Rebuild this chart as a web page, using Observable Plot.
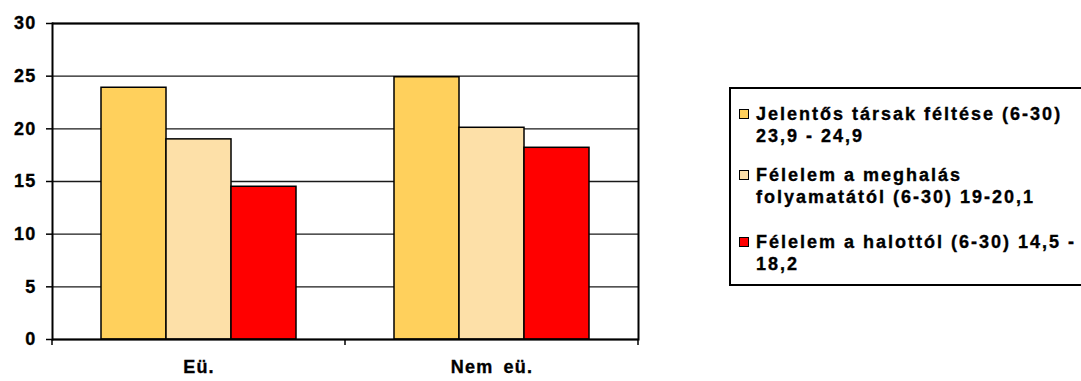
<!DOCTYPE html>
<html>
<head>
<meta charset="utf-8">
<script src="https://cdn.jsdelivr.net/npm/d3@7"></script>
<script src="https://cdn.jsdelivr.net/npm/@observablehq/plot@0.6"></script>
<style>
  html, body { margin: 0; padding: 0; background: #fff; overflow: hidden; }
  #wrap { position: relative; width: 1081px; height: 381px; overflow: hidden; }
  #chart svg text { letter-spacing: 1.2px; word-spacing: 4px; stroke: #000; stroke-width: 0.35px; paint-order: stroke; }
  #legend {
    position: absolute; left: 729px; top: 87px; width: 400px; height: 199px;
    box-sizing: border-box; border: 2px solid #000; background: #fff;
    font-family: "Liberation Sans", Arial, sans-serif; font-weight: bold; font-size: 18px;
    letter-spacing: 2px; word-spacing: 0px; color: #000; -webkit-text-stroke: 0.35px #000;
  }
  .item { position: absolute; left: 25px; line-height: 22px; white-space: pre; }
  .sw { position: absolute; left: -17px; top: 6px; width: 10px; height: 10px; box-sizing: border-box; border: 1px solid #000; }
</style>
</head>
<body>
<div id="wrap">
  <div id="chart"></div>
  <div id="legend"></div>
</div>
<script>
const categories = ["Eü.", "Nem eü."];
const seriesNames = ["Jelentős társak féltése", "Félelem a meghalás folyamatától", "Félelem a halottól"];
const legendLines = [
  ["Jelentős társak féltése (6-30)", "23,9 - 24,9"],
  ["Félelem a meghalás", "folyamatától (6-30) 19-20,1"],
  ["Félelem a halottól (6-30) 14,5 -", "18,2"]
];
const jelentos = [23.9, 24.9];
const meghalas = [19.0, 20.1];
const halott = [14.5, 18.2];
const colors = ["#FFD05C", "#FDE0A8", "#FF0000"];
const yTicks = [0, 5, 10, 15, 20, 25, 30];

const seriesValues = [jelentos, meghalas, halott];
const table = [];
categories.forEach((c, i) => {
  seriesNames.forEach((s, j) => table.push({cat: c, series: s, value: seriesValues[j][i]}));
});

const W = 1081, H = 381;
const plot = Plot.plot({
  width: W, height: H,
  marginLeft: 51, marginRight: 443, marginTop: 23, marginBottom: 42,
  style: {fontFamily: "'Liberation Sans', Arial, sans-serif", fontSize: "18px", fontWeight: "bold", color: "#000", background: "#fff"},
  fx: {domain: categories, padding: 0, label: null},
  x: {domain: seriesNames, paddingInner: 0, paddingOuter: 0.75, axis: null},
  y: {domain: [0, 30], label: null},
  color: {domain: seriesNames, range: colors},
  marks: [
    Plot.gridY(yTicks, {stroke: "#1a1a1a", strokeOpacity: 1, strokeWidth: 1.4}),
    Plot.barY(table, {fx: "cat", x: "series", y: "value", fill: "series", stroke: "#000", strokeWidth: 1.5}),
    Plot.ruleY([0], {stroke: "#000", strokeWidth: 2}),
    Plot.ruleY([30], {stroke: "#000", strokeWidth: 2}),
    Plot.frame({anchor: "left", facetAnchor: "left", stroke: "#000", strokeWidth: 2}),
    Plot.frame({anchor: "right", facetAnchor: "right", stroke: "#000", strokeWidth: 2}),
    Plot.axisY(yTicks, {tickSize: 6, tickPadding: 10, label: null, stroke: "#000", strokeWidth: 1.5}),
    Plot.axisFx({anchor: "bottom", tickSize: 0, tickPadding: 21, label: null})
  ]
});
document.getElementById("chart").appendChild(plot);

// category boundary tick marks on the x axis, positioned with Plot's own scales
const fx = plot.scale("fx"), y = plot.scale("y");
const bounds = categories.map(c => fx.apply(c)).concat([fx.apply(categories[categories.length - 1]) + fx.bandwidth]);
const y0 = y.apply(0);
d3.select(plot).append("g").selectAll("line").data(bounds).join("line")
  .attr("x1", d => d).attr("x2", d => d)
  .attr("y1", y0).attr("y2", y0 + 6)
  .attr("stroke", "#000").attr("stroke-width", 1.5);

// legend
const tops = [14, 75, 142];
const lg = d3.select("#legend");
legendLines.forEach((lines, i) => {
  const it = lg.append("div").attr("class", "item").style("top", tops[i] + "px").text(lines.join("\n"));
  it.append("div").attr("class", "sw").style("background", colors[i]);
});
</script>
</body>
</html>
